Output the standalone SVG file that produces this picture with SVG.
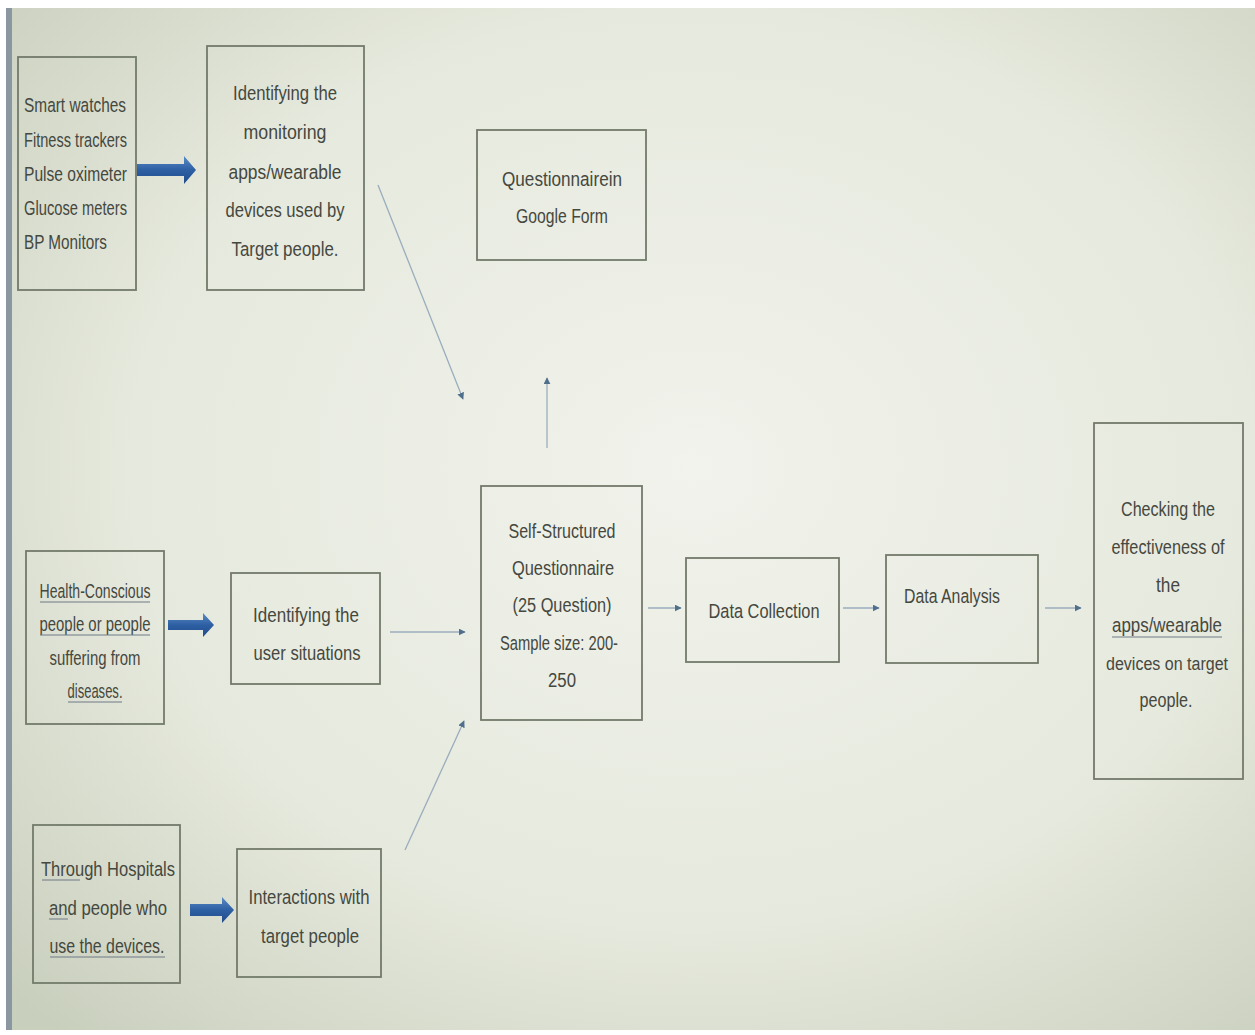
<svg xmlns="http://www.w3.org/2000/svg" width="1255" height="1035" viewBox="0 0 1255 1035">
<defs>
<radialGradient id="bg" cx="0.55" cy="0.45" r="0.75">
<stop offset="0" stop-color="#f1f3ec"/>
<stop offset="0.6" stop-color="#e6e9dd"/>
<stop offset="1" stop-color="#c9cfbd"/>
</radialGradient>
<linearGradient id="blk" x1="0" y1="0" x2="0" y2="1">
<stop offset="0" stop-color="#5b8cc7"/>
<stop offset="0.5" stop-color="#2d5fa3"/>
<stop offset="1" stop-color="#1f4c8a"/>
</linearGradient>
<marker id="ah" viewBox="0 0 10 10" refX="9" refY="5" markerWidth="7" markerHeight="7" orient="auto" markerUnits="userSpaceOnUse">
<path d="M0,0 L10,5 L0,10 z" fill="#4f6f8c"/>
</marker>
<style>
.box{fill:none;stroke:#737a6b;stroke-width:1.8}
.t{font-family:"Liberation Sans",Arial,sans-serif;font-size:20.5px;fill:#45483f}
.c{text-anchor:middle}
.ln{stroke:#9aadbd;stroke-width:1.3;fill:none}
.ul{stroke:#6f7a86;stroke-width:1}
.blk{fill:url(#blk)}
</style>
</defs>
<rect x="0" y="0" width="1255" height="1035" fill="#ffffff"/>
<rect x="6" y="8" width="1249" height="1022" fill="url(#bg)"/>
<rect x="6" y="8" width="6" height="1022" fill="#8a96a0"/>

<g id="connectors">
<path class="blk" d="M137,164 H184 V156 L196,170 L184,184 V176 H137 z"/>
<path class="blk" d="M168,620 H203 V613 L214,625 L203,637 V630 H168 z"/>
<path class="blk" d="M190,904 H222 V897 L234,910 L222,923 V916 H190 z"/>
<line class="ln" x1="378" y1="185" x2="463" y2="399" marker-end="url(#ah)"/>
<line class="ln" x1="547" y1="448" x2="547" y2="378" marker-end="url(#ah)"/>
<line class="ln" x1="390" y1="632" x2="465" y2="632" marker-end="url(#ah)"/>
<line class="ln" x1="405" y1="850" x2="464" y2="721" marker-end="url(#ah)"/>
<line class="ln" x1="648" y1="608" x2="681" y2="608" marker-end="url(#ah)"/>
<line class="ln" x1="843" y1="608" x2="879" y2="608" marker-end="url(#ah)"/>
<line class="ln" x1="1045" y1="608" x2="1081" y2="608" marker-end="url(#ah)"/>
</g>

<g id="devices">
<rect class="box" x="18" y="57" width="118" height="233"/>
<text class="t" x="24" y="112" textLength="102" lengthAdjust="spacingAndGlyphs">Smart  watches</text>
<text class="t" x="24" y="147" textLength="103" lengthAdjust="spacingAndGlyphs">Fitness trackers</text>
<text class="t" x="24" y="181" textLength="103" lengthAdjust="spacingAndGlyphs">Pulse  oximeter</text>
<text class="t" x="24" y="215" textLength="103" lengthAdjust="spacingAndGlyphs">Glucose meters</text>
<text class="t" x="24" y="249" textLength="83" lengthAdjust="spacingAndGlyphs">BP Monitors</text>
</g>

<g id="identify-apps">
<rect class="box" x="207" y="46" width="157" height="244"/>
<text class="t c" x="285" y="100" textLength="104" lengthAdjust="spacingAndGlyphs">Identifying the</text>
<text class="t c" x="285" y="139" textLength="83" lengthAdjust="spacingAndGlyphs">monitoring</text>
<text class="t c" x="285" y="179" textLength="113" lengthAdjust="spacingAndGlyphs">apps/wearable</text>
<text class="t c" x="285" y="217" textLength="119" lengthAdjust="spacingAndGlyphs">devices used by</text>
<text class="t c" x="285" y="256" textLength="107" lengthAdjust="spacingAndGlyphs">Target people.</text>
</g>

<g id="google-form">
<rect class="box" x="477" y="130" width="169" height="130"/>
<text class="t c" x="562" y="186" textLength="120" lengthAdjust="spacingAndGlyphs">Questionnairein</text>
<text class="t c" x="562" y="223" textLength="92" lengthAdjust="spacingAndGlyphs">Google Form</text>
</g>

<g id="health-conscious">
<rect class="box" x="26" y="551" width="138" height="173"/>
<text class="t c" x="95" y="598" textLength="111" lengthAdjust="spacingAndGlyphs">Health-Conscious</text>
<text class="t c" x="95" y="631" textLength="111" lengthAdjust="spacingAndGlyphs">people or people</text>
<text class="t c" x="95" y="665" textLength="91" lengthAdjust="spacingAndGlyphs">suffering from</text>
<text class="t c" x="95" y="698" textLength="55" lengthAdjust="spacingAndGlyphs">diseases.</text>
<line class="ul" x1="40" y1="602" x2="150" y2="602"/>
<line class="ul" x1="40" y1="635" x2="150" y2="635"/>
<line class="ul" x1="68" y1="702" x2="122" y2="702"/>
</g>

<g id="user-situations">
<rect class="box" x="231" y="573" width="149" height="111"/>
<text class="t c" x="306" y="622" textLength="106" lengthAdjust="spacingAndGlyphs">Identifying the</text>
<text class="t c" x="307" y="660" textLength="107" lengthAdjust="spacingAndGlyphs">user situations</text>
</g>

<g id="hospitals">
<rect class="box" x="33" y="825" width="147" height="158"/>
<text class="t c" x="108" y="876" textLength="134" lengthAdjust="spacingAndGlyphs">Through Hospitals</text>
<text class="t c" x="108" y="915" textLength="118" lengthAdjust="spacingAndGlyphs">and people who</text>
<text class="t c" x="107" y="953" textLength="115" lengthAdjust="spacingAndGlyphs">use the devices.</text>
<line class="ul" x1="42" y1="880" x2="80" y2="880"/>
<line class="ul" x1="49" y1="919" x2="68" y2="919"/>
<line class="ul" x1="50" y1="957" x2="165" y2="957"/>
</g>

<g id="interactions">
<rect class="box" x="237" y="849" width="144" height="128"/>
<text class="t c" x="309" y="904" textLength="121" lengthAdjust="spacingAndGlyphs">Interactions with</text>
<text class="t c" x="310" y="943" textLength="98" lengthAdjust="spacingAndGlyphs">target people</text>
</g>

<g id="questionnaire">
<rect class="box" x="481" y="486" width="161" height="234"/>
<text class="t c" x="562" y="538" textLength="107" lengthAdjust="spacingAndGlyphs">Self-Structured</text>
<text class="t c" x="563" y="575" textLength="102" lengthAdjust="spacingAndGlyphs">Questionnaire</text>
<text class="t c" x="562" y="612" textLength="99" lengthAdjust="spacingAndGlyphs">(25 Question)</text>
<text class="t c" x="559" y="650" textLength="118" lengthAdjust="spacingAndGlyphs">Sample size: 200-</text>
<text class="t c" x="562" y="687" textLength="28" lengthAdjust="spacingAndGlyphs">250</text>
</g>

<g id="data-collection">
<rect class="box" x="686" y="558" width="153" height="104"/>
<text class="t c" x="764" y="618" textLength="111" lengthAdjust="spacingAndGlyphs">Data Collection</text>
</g>

<g id="data-analysis">
<rect class="box" x="886" y="555" width="152" height="108"/>
<text class="t" x="904" y="603" textLength="96" lengthAdjust="spacingAndGlyphs">Data Analysis</text>
</g>

<g id="effectiveness">
<rect class="box" x="1094" y="423" width="149" height="356"/>
<text class="t c" x="1168" y="516" textLength="94" lengthAdjust="spacingAndGlyphs">Checking the</text>
<text class="t c" x="1168" y="554" textLength="113" lengthAdjust="spacingAndGlyphs">effectiveness of</text>
<text class="t c" x="1168" y="592" textLength="24" lengthAdjust="spacingAndGlyphs">the</text>
<text class="t c" x="1167" y="632" textLength="110" lengthAdjust="spacingAndGlyphs">apps/wearable</text>
<text class="t c" x="1167" y="670" style="font-size:18px" textLength="122" lengthAdjust="spacingAndGlyphs">devices on target</text>
<text class="t c" x="1166" y="707" textLength="53" lengthAdjust="spacingAndGlyphs">people.</text>
<line class="ul" x1="1112" y1="637" x2="1222" y2="637"/>
</g>
</svg>
